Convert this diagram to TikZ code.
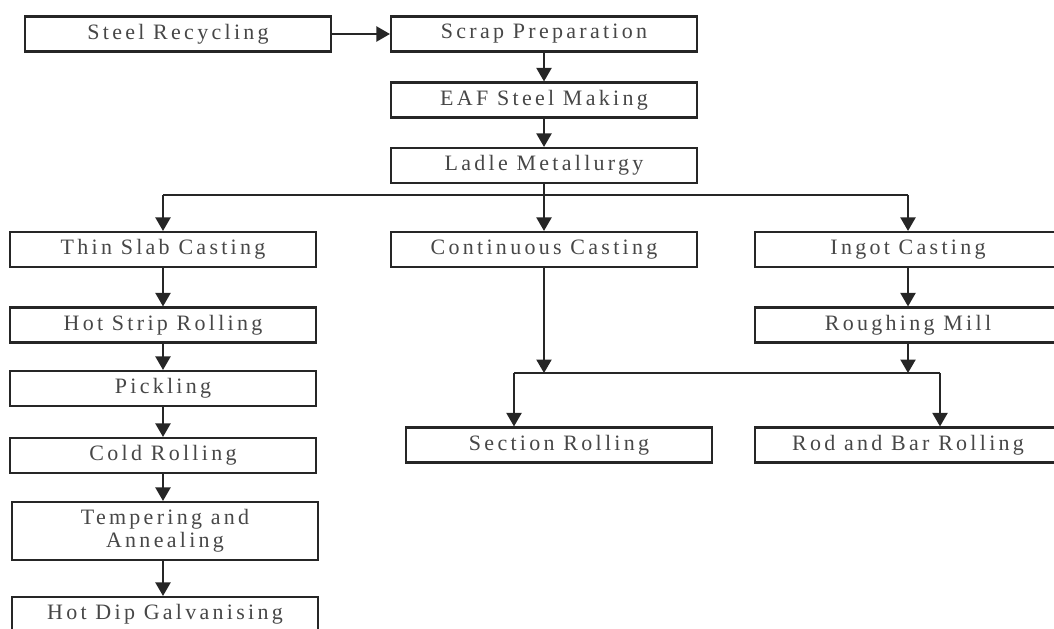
\documentclass[tikz,border=0pt]{standalone}
\usepackage{fontspec}
\newfontfamily\boxfont[LetterSpace=15]{Liberation Serif}
\usepackage{tikz}
\usetikzlibrary{arrows.meta}
\tikzstyle{stage}  = [rectangle, minimum width=6.12cm, minimum height=0.7cm, text centered, draw=black!85, line width=1.2pt, fill=white, text=black!72, inner sep=1pt, font=\boxfont\fontsize{12.5}{13.2}\selectfont]
\tikzstyle{twoline} = [stage, minimum height=1.16cm, align=center]
\tikzstyle{line}   = [line width=1.2pt, draw=black!85]
\tikzstyle{arrow}  = [line, -{Triangle[width=0.3cm,length=0.27cm]}]

\begin{document}
\begin{tikzpicture}[node distance=1cm]
    \useasboundingbox (0,0) rectangle (21.08,-12.56);
    \clip (0,0) rectangle (21.08,-12.56);

    \node (recyc) [stage] at (3.56,-0.68)              {Steel Recycling};
    \node (scrap) [stage, right of=recyc, xshift=6.32cm] {Scrap Preparation};
    \node (eaf)   [stage, below of=scrap, yshift=-0.32cm] {EAF Steel Making};
    \node (ladle) [stage, below of=eaf, yshift=-0.31cm]   {Ladle Metallurgy};
    \node (cont)  [stage, below of=ladle, yshift=-0.68cm] {Continuous Casting};
    \node (thin)  [stage, left of=cont, xshift=-6.62cm]   {Thin Slab Casting};
    \node (ingot) [stage, right of=cont, xshift=6.28cm]   {Ingot Casting};
    \node (hot)   [stage, below of=thin, yshift=-0.51cm]  {Hot Strip Rolling};
    \node (rough) [stage, below of=ingot, yshift=-0.51cm] {Roughing Mill};
    \node (pick)  [stage, below of=hot, yshift=-0.27cm]   {Pickling};
    \node (cold)  [stage, below of=pick, yshift=-0.34cm]  {Cold Rolling};
    \node (temp)  [twoline, below of=cold, yshift=-0.51cm, xshift=0.04cm] {Tempering and\\Annealing};
    \node (galv)  [stage, below of=temp, yshift=-0.67cm]  {Hot Dip Galvanising};
    \node (sec)   [stage, below of=cont, yshift=-2.91cm, xshift=0.3cm] {Section Rolling};
    \node (rod)   [stage, below of=rough, yshift=-1.4cm]  {Rod and Bar Rolling};

    \coordinate (fork)  at ([yshift=-0.22cm]ladle.south);
    \coordinate (merge) at ([yshift=-0.59cm]rough.south);
    \coordinate (mL)    at ([xshift=-7.88cm]merge);
    \coordinate (mR)    at ([xshift=0.64cm]merge);

    \draw [arrow] (recyc) -- (scrap);
    \draw [arrow] (scrap) -- (eaf);
    \draw [arrow] (eaf) -- (ladle);
    \draw [arrow] (ladle) -- (cont);
    \draw [line]  (fork -| thin) -- (fork -| ingot);
    \draw [arrow] (fork -| thin) -- (thin);
    \draw [arrow] (fork -| ingot) -- (ingot);
    \draw [arrow] (thin) -- (hot);
    \draw [arrow] (hot) -- (pick);
    \draw [arrow] (pick) -- (cold);
    \draw [arrow] (cold) -- (cold |- temp.north);
    \draw [arrow] (cold |- temp.south) -- (cold |- galv.north);
    \draw [arrow] (ingot) -- (rough);
    \draw [arrow] (cont) -- (cont |- merge);
    \draw [arrow] (rough) -- (merge);
    \draw [line]  (mL) -- (mR);
    \draw [arrow] (mL) -- (mL |- sec.north);
    \draw [arrow] (mR) -- (mR |- rod.north);
\end{tikzpicture}
\end{document}
